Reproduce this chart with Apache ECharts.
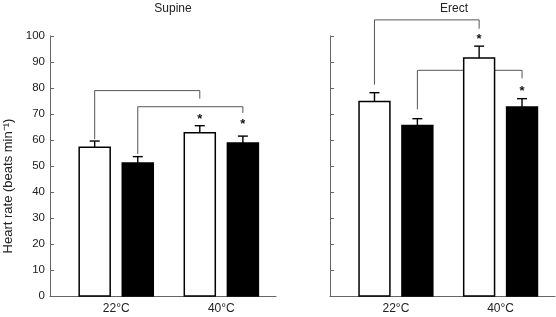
<!DOCTYPE html>
<html>
<head>
<meta charset="utf-8">
<title>Heart rate</title>
<script src="https://cdn.jsdelivr.net/npm/echarts@6/dist/echarts.min.js"></script>
<style>
  body{margin:0;background:#fff;}
  #main{width:556px;height:317px;}
</style>
</head>
<body>
<div id="main"></div>
<script>
// ---- data ----
var categories = ['22°C', '40°C'];
var yTicks = [0, 10, 20, 30, 40, 50, 60, 70, 80, 90, 100];

// Supine: white bars / black bars, mean and SE
var supineWhite    = [57.2, 62.8];
var supineWhiteErr = [2.4, 2.7];
var supineBlack    = [51.2, 58.8];
var supineBlackErr = [2.4, 2.7];

// Erect
var erectWhite    = [74.8, 91.5];
var erectWhiteErr = [3.4, 4.6];
var erectBlack    = [65.6, 72.7];
var erectBlackErr = [2.6, 3.2];

// asterisks above the 40°C bars (white, black)
var supineStars = [69.2, 67.2];
var erectStars  = [100.0, 79.8];

// brackets: [top, left leg end, right leg end] for white pair then black pair
var supineBracketTop   = [79.0, 72.8];
var supineBracketLeft  = [60.3, 54.6];
var supineBracketRight = [75.9, 70.4];
var erectBracketTop    = [106.2, 86.8];
var erectBracketLeft   = [81.3, 71.8];
var erectBracketRight  = [102.8, 83.7];

// ---- layout helpers ----
var FONT = 'Liberation Sans, Arial, Helvetica, sans-serif';
var BAR_W = 0.295;      // bar width in x units
var BAR_OFF = 0.205;    // half distance between the two bars in a group
var X_MIN = 0.37, X_MAX = 2.52;

function barX(cat, dark) { return cat + 1 + (dark ? BAR_OFF : -BAR_OFF); }

function barData(white, black) {
    var d = [];
    for (var i = 0; i < categories.length; i++) {
        d.push([barX(i, 0), white[i], 0]);
        d.push([barX(i, 1), black[i], 1]);
    }
    return d;
}
function errData(white, wErr, black, bErr) {
    var d = [];
    for (var i = 0; i < categories.length; i++) {
        d.push([barX(i, 0), white[i], wErr[i]]);
        d.push([barX(i, 1), black[i], bErr[i]]);
    }
    return d;
}
function bracketData(top, left, right) {
    var d = [];
    for (var g = 0; g < 2; g++) {
        d.push([barX(0, g), barX(1, g), top[g], left[g], right[g]]);
    }
    return d;
}
function starData(stars) {
    return [[barX(1, 0), stars[0]], [barX(1, 1), stars[1]]];
}

function renderBar(params, api) {
    var x = api.value(0), v = api.value(1), dark = api.value(2);
    var p0 = api.coord([x - BAR_W / 2, v]);
    var p1 = api.coord([x + BAR_W / 2, 0]);
    return {
        type: 'rect',
        shape: {x: p0[0], y: p0[1], width: p1[0] - p0[0], height: p1[1] - p0[1]},
        style: {fill: dark ? '#000' : '#fff', stroke: '#000', lineWidth: 1.5}
    };
}
function renderErr(params, api) {
    var x = api.value(0), v = api.value(1), e = api.value(2);
    var a = api.coord([x, v]);
    var b = api.coord([x, v + e]);
    var st = {stroke: '#000', lineWidth: 1.4};
    return {
        type: 'group',
        children: [
            {type: 'line', shape: {x1: a[0], y1: a[1], x2: b[0], y2: b[1]}, style: st},
            {type: 'line', shape: {x1: b[0] - 5, y1: b[1], x2: b[0] + 5, y2: b[1]}, style: st}
        ]
    };
}
function renderBracket(params, api) {
    var x1 = api.value(0), x2 = api.value(1), top = api.value(2);
    var pts = [
        api.coord([x1, api.value(3)]),
        api.coord([x1, top]),
        api.coord([x2, top]),
        api.coord([x2, api.value(4)])
    ];
    return {
        type: 'polyline',
        shape: {points: pts},
        style: {stroke: '#555', lineWidth: 1, fill: null}
    };
}
function renderStar(params, api) {
    var p = api.coord([api.value(0), api.value(1)]);
    return {
        type: 'text',
        x: p[0], y: p[1] + 3,
        style: {text: '*', fill: '#111', font: 'bold 13px ' + FONT, align: 'center', verticalAlign: 'middle'}
    };
}

function panelSeries(idx, white, wErr, black, bErr, stars, bTop, bLeft, bRight) {
    return [
        {type: 'custom', xAxisIndex: idx, yAxisIndex: idx, clip: false, renderItem: renderBracket,
         data: bracketData(bTop, bLeft, bRight), z: 1},
        {type: 'custom', xAxisIndex: idx, yAxisIndex: idx, clip: false, renderItem: renderErr,
         data: errData(white, wErr, black, bErr), z: 2},
        {type: 'custom', xAxisIndex: idx, yAxisIndex: idx, clip: false, renderItem: renderBar,
         data: barData(white, black), z: 3},
        {type: 'custom', xAxisIndex: idx, yAxisIndex: idx, clip: false, renderItem: renderStar,
         data: starData(stars), z: 4}
    ];
}

function xAxisOf(idx) {
    return {
        type: 'value', gridIndex: idx, min: X_MIN, max: X_MAX,
        axisLine: {lineStyle: {color: '#666', width: 1}},
        axisTick: {show: false},
        splitLine: {show: false},
        axisLabel: {
            customValues: [1, 2],
            formatter: function (v) { return categories[Math.round(v) - 1] || ''; },
            color: '#222', fontSize: 12, fontFamily: FONT, margin: 7
        }
    };
}
function yAxisOf(idx, showLabel) {
    return {
        type: 'value', gridIndex: idx, min: 0, max: 100, interval: 10,
        axisLine: {show: true, lineStyle: {color: '#666', width: 1}},
        axisTick: {show: true, inside: true, length: 4, lineStyle: {color: '#666'}},
        splitLine: {show: false},
        axisLabel: {show: showLabel, color: '#222', fontSize: 11.5, fontFamily: FONT, margin: 5,
            formatter: function (v) { return yTicks.indexOf(v) >= 0 ? String(v) : ''; }}
    };
}

var myChart = echarts.init(document.getElementById('main'));
var option = {
    animation: false,
    backgroundColor: '#fff',
    title: [
        {text: 'Supine', left: 168, top: -2, textAlign: 'center',
         textStyle: {fontSize: 12, fontWeight: 'normal', color: '#222', fontFamily: FONT}},
        {text: 'Erect', left: 449, top: -2, textAlign: 'center',
         textStyle: {fontSize: 12, fontWeight: 'normal', color: '#222', fontFamily: FONT}}
    ],
    graphic: [{
        type: 'text', x: 8, y: 186, rotation: Math.PI / 2,
        style: {text: 'Heart rate (beats min\u207B\u00B9)', fill: '#222', font: '13px ' + FONT,
                align: 'center', verticalAlign: 'middle'}
    }],
    grid: [
        {left: 50, right: 280, top: 36, bottom: 21},
        {left: 330, right: 1, top: 36, bottom: 21}
    ],
    xAxis: [xAxisOf(0), xAxisOf(1)],
    yAxis: [yAxisOf(0, true), yAxisOf(1, false)],
    series: [].concat(
        panelSeries(0, supineWhite, supineWhiteErr, supineBlack, supineBlackErr, supineStars,
                    supineBracketTop, supineBracketLeft, supineBracketRight),
        panelSeries(1, erectWhite, erectWhiteErr, erectBlack, erectBlackErr, erectStars,
                    erectBracketTop, erectBracketLeft, erectBracketRight)
    )
};
myChart.setOption(option);
</script>
</body>
</html>
